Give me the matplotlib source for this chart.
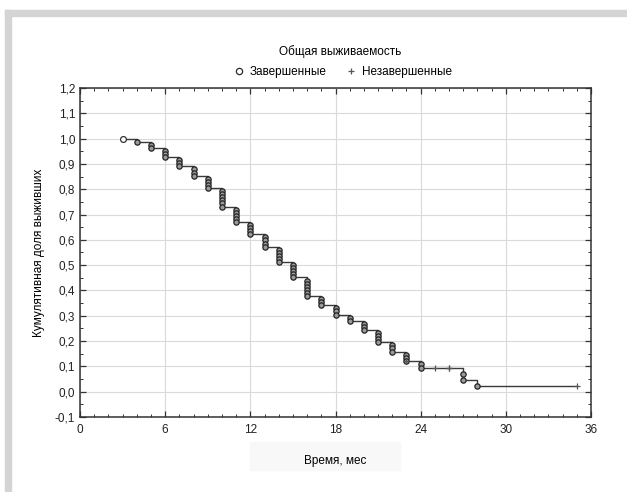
import matplotlib
matplotlib.use('Agg')
import matplotlib.pyplot as plt
from matplotlib.lines import Line2D
from matplotlib.patches import Rectangle
from matplotlib.ticker import MultipleLocator, FuncFormatter

plt.rcParams['font.family'] = ['Liberation Sans', 'DejaVu Sans']

# survival data (months)
n_total = 82
start_time = 3
event_times = [4, 5, 6, 7, 8, 9, 10, 11, 12, 13, 14, 15, 16, 17, 18, 19, 20, 21, 22, 23, 24, 27, 28]
event_counts = [1, 2, 3, 3, 3, 4, 6, 5, 4, 4, 5, 5, 6, 3, 3, 2, 3, 4, 3, 3, 2, 2, 1]
censor_times = [23, 25, 26, 35]
censor_counts = [1, 1, 2, 1]

title = "Общая выживаемость"
legend_labels = ["Завершенные", "Незавершенные"]
x_label = "Время, мес"
y_label = "Кумулятивная доля выживших"

# product-limit estimate, one point per case
ev = dict(zip(event_times, event_counts))
ce = dict(zip(censor_times, censor_counts))
at_risk = n_total
surv = 1.0
step_x, step_y = [start_time], [1.0]
done_x, done_y = [], []
cens_x, cens_y = [], []
for t in sorted(set(event_times) | set(censor_times)):
    if t in ev:
        step_x.append(t)
        step_y.append(surv)
        for k in range(ev[t]):
            surv *= (at_risk - 1) / at_risk
            at_risk -= 1
            done_x.append(t)
            done_y.append(surv)
        step_x.append(t)
        step_y.append(surv)
    if t in ce:
        for k in range(ce[t]):
            cens_x.append(t)
            cens_y.append(surv)
            at_risk -= 1
step_x.append(max(censor_times))
step_y.append(surv)

fig = plt.figure(figsize=(6.27, 4.92), dpi=100)
ax = fig.add_axes([80 / 627, 1 - 417 / 492, 511 / 627, 329 / 492])

# grey frame of the page
fig.patches.append(Rectangle((5 / 627, 1 - 16 / 492), 622 / 627, 6 / 492,
                             transform=fig.transFigure, color='#d4d4d4', zorder=-2))
fig.patches.append(Rectangle((5 / 627, 0), 6 / 627, 1 - 10 / 492,
                             transform=fig.transFigure, color='#d4d4d4', zorder=-2))
# faint box behind x label
fig.patches.append(Rectangle((250 / 627, 1 - 470 / 492), 150 / 627, 28 / 492,
                             transform=fig.transFigure, color='#f8f8f8', zorder=-2))

ax.plot(step_x, step_y, color='#3a3a3a', lw=1.0, zorder=3)
ax.plot([start_time], [1.0], ls='none', marker='o', ms=4.2, mfc='white',
        mec='#333333', mew=0.9, zorder=4)
ax.plot(done_x, done_y, ls='none', marker='o', ms=3.8, mfc='#9a9a9a',
        mec='#222222', mew=0.9, zorder=4)
ax.plot(cens_x, cens_y, ls='none', marker='+', ms=5, color='#555555', mew=0.9, zorder=4)

ax.set_xlim(0, 36)
ax.set_ylim(-0.1, 1.2)
ax.xaxis.set_major_locator(MultipleLocator(6))
ax.xaxis.set_minor_locator(MultipleLocator(1))
ax.yaxis.set_major_locator(MultipleLocator(0.1))
ax.yaxis.set_minor_locator(MultipleLocator(0.05))
ax.yaxis.set_major_formatter(FuncFormatter(lambda v, p: ("%.1f" % v).replace('.', ',')))
ax.tick_params(which='both', direction='in', top=True, right=True, colors='#333333',
               labelsize=8.5, labelcolor='#222222')
ax.tick_params(which='major', length=4, width=0.9)
ax.tick_params(which='minor', length=2, width=0.7)
ax.tick_params(axis='x', pad=5)
ax.grid(True, which='major', color='#dadada', lw=0.8)
ax.set_axisbelow(True)
for s in ax.spines.values():
    s.set_color('#333333')
    s.set_linewidth(1.1)

ax.set_xlabel(x_label, fontsize=8.5, labelpad=14)
ax.set_ylabel(y_label, fontsize=8.5, labelpad=7)

fig.text(340 / 627, 1 - 52 / 492, title, ha='center', va='center', fontsize=8.5)
handles = [Line2D([], [], ls='none', marker='o', ms=4.5, mfc='none', mec='#2a2a2a', mew=0.9),
           Line2D([], [], ls='none', marker='+', ms=5, color='#555555', mew=0.9)]
fig.legend(handles, legend_labels, loc='center', bbox_to_anchor=(342 / 627, 1 - 72 / 492),
           ncol=2, frameon=False, fontsize=8.5, handletextpad=0.3, columnspacing=1.5,
           handlelength=1.2)

fig.savefig('out.png', dpi=100)
